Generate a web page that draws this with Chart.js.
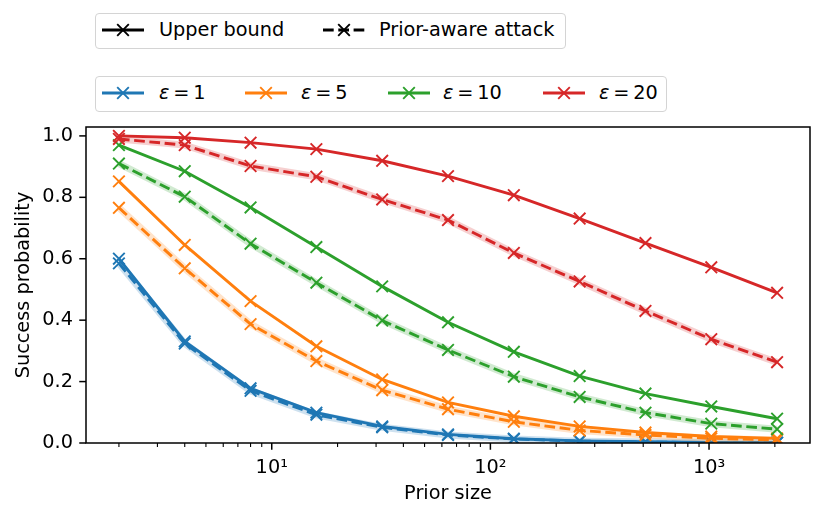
<!DOCTYPE html>
<html>
<head>
<meta charset="utf-8">
<script src="https://cdn.jsdelivr.net/npm/chart.js@4.4.1/dist/chart.umd.min.js"></script>
<style>
  body { margin: 0; background: #fff; font-family: "DejaVu Sans", sans-serif; }
  #wrap { position: relative; width: 831px; height: 519px; }
  #c { position: absolute; left: 0; top: 0; }
  .legend { position: absolute; border: 1px solid #d4d4d4; border-radius: 4px; background: #fff; box-sizing: border-box; }
  .lab { position: absolute; font-size: 19.3px; line-height: 24px; white-space: nowrap; color: #000; }
  .handle { position: absolute; }
</style>
</head>
<body>
<div id="wrap">
  <canvas id="c" width="831" height="519"></canvas>
</div>
<script>
// x values (prior size)
const priorSizes = [2, 4, 8, 16, 32, 64, 128, 256, 512, 1024, 2048];
const epsilons = [1, 5, 10, 20];

// success probabilities
const upperEps1   = [0.600, 0.331, 0.178, 0.099, 0.054, 0.028, 0.014, 0.007, 0.004, 0.002, 0.001];
const attackEps1  = [0.585, 0.324, 0.170, 0.092, 0.051, 0.026, 0.013, 0.006, 0.003, 0.0015, 0.001];
const upperEps5   = [0.852, 0.645, 0.462, 0.315, 0.207, 0.132, 0.087, 0.054, 0.034, 0.021, 0.015];
const attackEps5  = [0.766, 0.569, 0.387, 0.267, 0.172, 0.110, 0.069, 0.041, 0.026, 0.015, 0.010];
const upperEps10  = [0.970, 0.885, 0.767, 0.638, 0.510, 0.393, 0.297, 0.218, 0.161, 0.119, 0.079];
const attackEps10 = [0.910, 0.802, 0.649, 0.522, 0.399, 0.303, 0.216, 0.150, 0.099, 0.063, 0.045];
const upperEps20  = [1.000, 0.994, 0.978, 0.957, 0.919, 0.869, 0.807, 0.731, 0.651, 0.572, 0.489];
const attackEps20 = [0.990, 0.970, 0.902, 0.867, 0.793, 0.726, 0.619, 0.526, 0.430, 0.338, 0.263];

const upperSeries  = [upperEps1, upperEps5, upperEps10, upperEps20];
const attackSeries = [attackEps1, attackEps5, attackEps10, attackEps20];

// tick labels
const xMajorTicks = [10, 100, 1000];
const xMajorLabels = ['10\u00b9', '10\u00b2', '10\u00b3'];
const yTicks = [0, 0.2, 0.4, 0.6, 0.8, 1.0];

const colors = ['#1f77b4', '#ff7f0e', '#2ca02c', '#d62728'];
const bands  = ['rgba(31,119,180,0.22)', 'rgba(255,127,14,0.22)', 'rgba(44,160,44,0.22)', 'rgba(214,39,40,0.22)'];

const FONT = { family: 'DejaVu Sans', size: 19.3 };
const LW = 2.9;
const DASH = [10.7, 4.6];

// minor + major tick positions for the log axis
const xAllTicks = [];
for (let p = 1; p <= 1000; p *= 10) {
  for (let m = 1; m <= 9; m++) {
    const v = m * p;
    if (v >= 1.414 && v <= 2896) xAllTicks.push(v);
  }
}

const datasets = [];
epsilons.forEach((eps, i) => {
  datasets.push({
    label: 'upper eps=' + eps,
    data: upperSeries[i],
    borderColor: colors[i],
    borderWidth: LW,
    pointStyle: 'crossRot',
    pointRadius: 8.2,
    pointBorderWidth: 1.9,
    pointBorderColor: colors[i],
    pointBackgroundColor: colors[i],
    tension: 0
  });
  datasets.push({
    label: 'band eps=' + eps,
    data: attackSeries[i],
    borderColor: bands[i],
    borderWidth: 7,
    pointRadius: 0,
    tension: 0
  });
  datasets.push({
    label: 'attack eps=' + eps,
    data: attackSeries[i],
    borderColor: colors[i],
    borderWidth: LW,
    borderDash: DASH,
    pointStyle: 'crossRot',
    pointRadius: 8.2,
    pointBorderWidth: 1.9,
    pointBorderColor: colors[i],
    pointBackgroundColor: colors[i],
    tension: 0
  });
});
// later datasets on top, like matplotlib
datasets.forEach((d, i) => { d.order = -i; });

// frame + outward ticks (major / minor)
const frameTicks = {
  id: 'frameTicks',
  afterDraw(chart) {
    const { ctx, chartArea: a } = chart;
    const xs = chart.scales.x, ys = chart.scales.y;
    ctx.save();
    ctx.strokeStyle = '#000';
    xAllTicks.forEach(v => {
      const major = xMajorTicks.includes(v);
      const px = xs.getPixelForValue(v);
      ctx.lineWidth = major ? 1.5 : 1.1;
      ctx.beginPath();
      ctx.moveTo(px, a.bottom);
      ctx.lineTo(px, a.bottom + (major ? 6.75 : 3.9));
      ctx.stroke();
    });
    ctx.lineWidth = 1.5;
    yTicks.forEach(v => {
      const py = ys.getPixelForValue(v);
      ctx.beginPath();
      ctx.moveTo(a.left, py);
      ctx.lineTo(a.left - 6.75, py);
      ctx.stroke();
    });
    ctx.strokeRect(a.left, a.top, a.right - a.left, a.bottom - a.top);
    ctx.restore();
  }
};

new Chart(document.getElementById('c'), {
  type: 'line',
  data: { labels: priorSizes, datasets: datasets.map(d => ({ ...d, data: d.data.map((y, k) => ({ x: priorSizes[k], y })) })) },
  options: {
    responsive: false,
    animation: false,
    devicePixelRatio: 1,
    layout: { padding: { top: 127, right: 21, bottom: 0, left: 0 } },
    plugins: { legend: { display: false }, tooltip: { enabled: false } },
    scales: {
      x: {
        type: 'logarithmic',
        min: 1.414,
        max: 2896,
        border: { display: false },
        grid: { display: true, drawOnChartArea: false, drawTicks: true, tickLength: 7, tickColor: 'rgba(0,0,0,0)' },
        afterBuildTicks: s => { s.ticks = xAllTicks.map(v => ({ value: v })); },
        afterFit: s => { s.height = 76; },
        ticks: {
          autoSkip: false, maxRotation: 0, minRotation: 0, padding: 6,
          color: '#000', font: FONT,
          callback: v => { const k = xMajorTicks.indexOf(v); return k >= 0 ? xMajorLabels[k] : ''; }
        },
        title: { display: true, text: 'Prior size', color: '#000', font: FONT, padding: { top: 0, bottom: 13 } }
      },
      y: {
        min: 0,
        max: 1.029,
        border: { display: false },
        grid: { display: true, drawOnChartArea: false, drawTicks: true, tickLength: 7, tickColor: 'rgba(0,0,0,0)' },
        afterBuildTicks: s => { s.ticks = yTicks.map(v => ({ value: v })); },
        afterFit: s => { s.width = 86; },
        ticks: { padding: 6, color: '#000', font: FONT, callback: v => Number(v).toFixed(1) },
        title: { display: true, text: 'Success probability', color: '#000', font: FONT, padding: { top: 12, bottom: 0 } }
      }
    }
  },
  plugins: [frameTicks]
});

// HTML legends
const wrap = document.getElementById('wrap');
function box(left, top, w, h) {
  const d = document.createElement('div');
  d.className = 'legend';
  Object.assign(d.style, { left: left + 'px', top: top + 'px', width: w + 'px', height: h + 'px' });
  wrap.appendChild(d);
}
function handle(x, cy, color, dashed) {
  const ns = 'http://www.w3.org/2000/svg';
  const svg = document.createElementNS(ns, 'svg');
  svg.setAttribute('width', 42); svg.setAttribute('height', 16);
  svg.setAttribute('class', 'handle');
  svg.style.left = x + 'px'; svg.style.top = (cy - 8) + 'px';
  const line = document.createElementNS(ns, 'line');
  Object.entries({ x1: 0, y1: 8, x2: 42, y2: 8, stroke: color, 'stroke-width': LW }).forEach(([k, v]) => line.setAttribute(k, v));
  if (dashed) line.setAttribute('stroke-dasharray', DASH.join(' '));
  svg.appendChild(line);
  const mk = document.createElementNS(ns, 'path');
  mk.setAttribute('d', 'M15.2 2.2 L26.8 13.8 M15.2 13.8 L26.8 2.2');
  mk.setAttribute('stroke', color); mk.setAttribute('stroke-width', 1.9);
  svg.appendChild(mk);
  wrap.appendChild(svg);
}
function label(x, cy, html) {
  const s = document.createElement('div');
  s.className = 'lab';
  s.style.left = x + 'px'; s.style.top = (cy - 12) + 'px';
  s.innerHTML = html;
  wrap.appendChild(s);
}

box(95, 13, 471, 36);
handle(102, 30, '#000', false); label(159, 30, 'Upper bound');
handle(323, 30, '#000', true); label(379, 30, 'Prior-aware attack');

box(95, 76, 572, 36);
const hx = [102, 245, 388, 543];
const tx = [159, 301, 443, 599];
epsilons.forEach((eps, i) => {
  handle(hx[i], 93, colors[i], false);
  label(tx[i], 93, '<i>\u03b5</i>\u2009=\u2009' + eps);
});
</script>
</body>
</html>
